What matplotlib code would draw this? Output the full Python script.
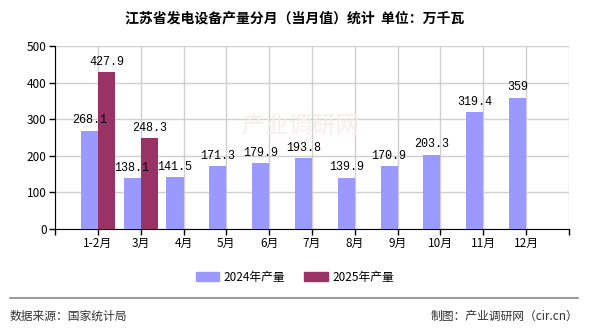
import matplotlib
matplotlib.use("Agg")
import matplotlib.pyplot as plt
import numpy as np

plt.rcParams['font.family'] = ['Noto Sans CJK SC', 'DejaVu Sans']

categories = ["1-2月", "3月", "4月", "5月", "6月", "7月", "8月", "9月", "10月", "11月", "12月"]
v2024 = [268.1, 138.1, 141.5, 171.3, 179.9, 193.8, 139.9, 170.9, 203.3, 319.4, 359]
v2025 = [427.9, 248.3]
labels2024 = ["268.1", "138.1", "141.5", "171.3", "179.9", "193.8", "139.9", "170.9", "203.3", "319.4", "359"]
labels2025 = ["427.9", "248.3"]
yticks = [0, 100, 200, 300, 400, 500]

c24 = "#9999FF"
c25 = "#993366"

fig = plt.figure(figsize=(5.9, 3.3), dpi=100)
ax = fig.add_axes([55/590, 1-229/330, (569-55)/590, (229-46)/330])

x = np.arange(len(categories))
w = 0.4
ax.bar(x - w/2, v2024, width=w, color=c24, zorder=3)
x25 = np.arange(len(v2025))
ax.bar(x25 + w/2, v2025, width=w, color=c25, zorder=3)

for xi, v, t in zip(x, v2024, labels2024):
    ax.text(xi - w/2, v + 12, t, ha='center', va='bottom', fontsize=8.5,
            family=['Liberation Mono', 'DejaVu Sans Mono'], zorder=4)
for xi, v, t in zip(x25, v2025, labels2025):
    ax.text(xi + w/2, v + 12, t, ha='center', va='bottom', fontsize=8.5,
            family=['Liberation Mono', 'DejaVu Sans Mono'], zorder=4)

ax.set_xlim(-1, len(categories))
ax.set_ylim(0, 500)
ax.set_yticks(yticks)
ax.set_yticklabels([str(t) for t in yticks], fontsize=8.5)
ax.set_xticks(list(x) + [-1, len(categories)])
ax.set_xticklabels(categories + ["", ""], fontsize=8.5)
ax.grid(True, color="#d0d0d0", linewidth=1, zorder=0)
for s in ['top', 'right']:
    ax.spines[s].set_visible(False)
ax.spines['left'].set_color('black')
ax.spines['bottom'].set_color('black')
ax.tick_params(axis='both', length=4, width=1, color='black', pad=2)

# watermark
fig.text(300/590, 1-126/330, "产业调研网", fontsize=17, color="#f8eded", ha='center', va='center', zorder=0)

fig.text(0.5, 1-18/330, "江苏省发电设备产量分月（当月值）统计  单位：万千瓦", ha='center', va='center',
         fontsize=10, fontweight='bold')

# legend
from matplotlib.patches import Patch
handles = [Patch(color=c24, label="2024年产量"), Patch(color=c25, label="2025年产量")]
fig.legend(handles=handles, loc='center', bbox_to_anchor=(0.5, 1-277/330), ncol=2, frameon=False,
           fontsize=8.5, handlelength=2.0, handleheight=0.8, columnspacing=1.6, handletextpad=0.4)

fig.add_artist(plt.Line2D([10/590, 578/590], [1-298/330, 1-298/330], color="#888888", linewidth=1.2))
fig.text(10/590, 1-316/330, "数据来源：国家统计局", ha='left', va='center', fontsize=8.5, color="#333333")
fig.text(578/590, 1-316/330, "制图：产业调研网（cir.cn）", ha='right', va='center', fontsize=8.5, color="#333333")

fig.savefig("out.png", dpi=100)
